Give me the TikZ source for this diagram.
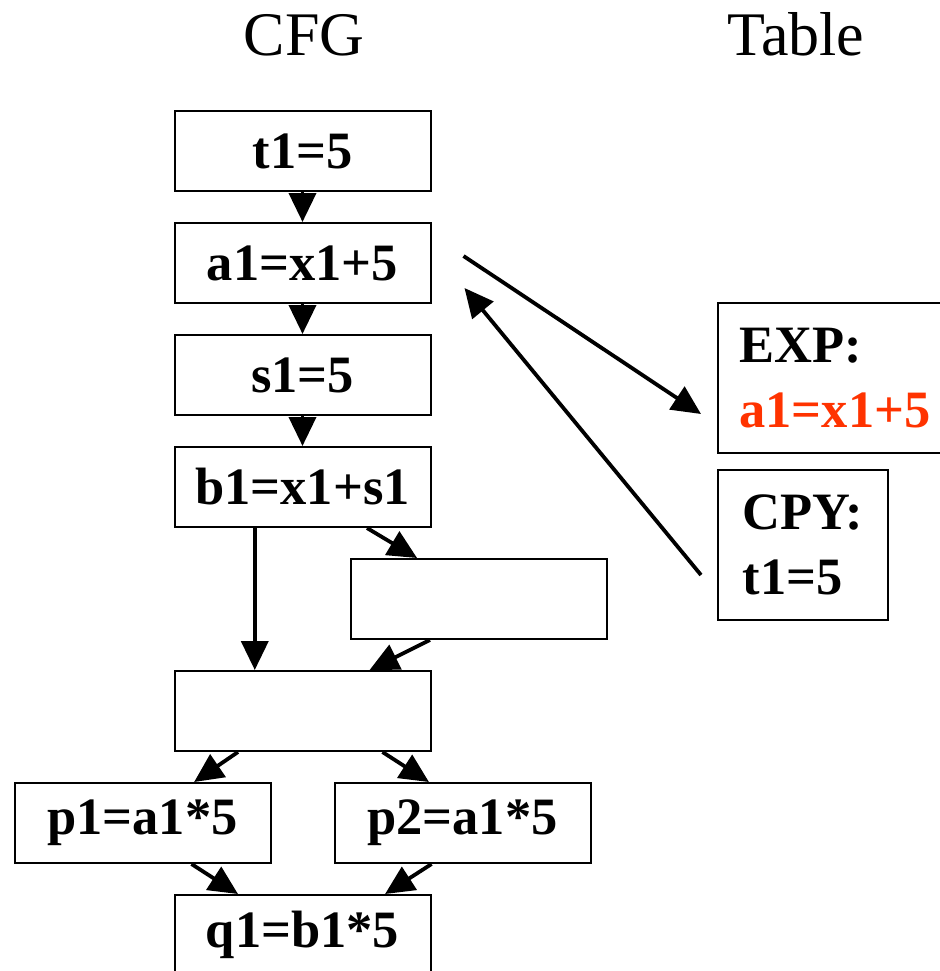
\documentclass[tikz,border=0pt]{standalone}
\usepackage{fontspec}
\setmainfont{Liberation Serif}
\usetikzlibrary{arrows.meta,calc}
\definecolor{exphl}{RGB}{255,51,0}

\begin{document}
\begin{tikzpicture}[x=1pt, y=-1pt,
    blk/.style={draw, line width=2pt, minimum width=256pt, minimum height=80pt, inner sep=0pt,
        font=\bfseries\fontsize{52.5}{65}\selectfont},
    tbl/.style={blk, minimum height=150pt, align=left},
    flow/.style={line width=3.8pt, -{Triangle[length=29pt,width=27pt]}}]

    \useasboundingbox (0,0) rectangle (939,971);

    % Titres
    \node[anchor=base, font=\fontsize{62}{74}\selectfont] (cfg) at (304,56) {CFG};
    \node[anchor=base, font=\fontsize{62}{74}\selectfont] (table) at (796,56) {Table};

    % Blocs du CFG
    \node[blk] (t1) at (302.5,151) {t1=5};
    \node[blk] (a1) at (302.5,263) {a1=x1+5};
    \node[blk] (s1) at (302.5,375) {s1=5};
    \node[blk] (b1) at (302.5,487) {b1=x1+s1};
    \node[blk] (blank) at (479,599) {};
    \node[blk] (join) at (302.5,711) {};
    \node[blk] (p1) at (142.5,823) {p1=a1*5};
    \node[blk] (p2) at (462.5,823) {p2=a1*5};
    \node[blk] (q1) at (302.5,935) {q1=b1*5};

    % Table
    \node[tbl, minimum width=234pt] (exp) at (835,378) {EXP:\\\textcolor{exphl}{a1=x1+5}};
    \node[tbl, minimum width=170pt] (cpy) at (803,544.5) {CPY:\\t1=5};

    % Arcs
    \draw[flow] (t1.south) -- (a1.north);
    \draw[flow] (a1.south) -- (s1.north);
    \draw[flow] (s1.south) -- (b1.north);
    \draw[flow] ($(b1.south west)!0.315!(b1.south east)$) -- ($(join.north west)!0.315!(join.north east)$);
    \draw[flow] ($(b1.south west)!0.75!(b1.south east)$) -- ($(blank.north west)!0.26!(blank.north east)$);
    \draw[flow] ($(blank.south west)!0.31!(blank.south east)$) -- ($(join.north west)!0.76!(join.north east)$);
    \draw[flow] ($(join.south west)!0.25!(join.south east)$) -- ($(p1.north west)!0.70!(p1.north east)$);
    \draw[flow] ($(join.south west)!0.81!(join.south east)$) -- ($(p2.north west)!0.37!(p2.north east)$);
    \draw[flow] ($(p1.south west)!0.69!(p1.south east)$) -- ($(q1.north west)!0.25!(q1.north east)$);
    \draw[flow] ($(p2.south west)!0.38!(p2.south east)$) -- ($(q1.north west)!0.82!(q1.north east)$);

    \draw[flow] ([xshift=32pt,yshift=7pt]a1.east) -- ([xshift=-16pt,yshift=-36pt]exp.west);
    \draw[flow] ([xshift=-16pt,yshift=-30.5pt]cpy.west) -- ([xshift=33pt,yshift=-25pt]a1.east);
\end{tikzpicture}
\end{document}
